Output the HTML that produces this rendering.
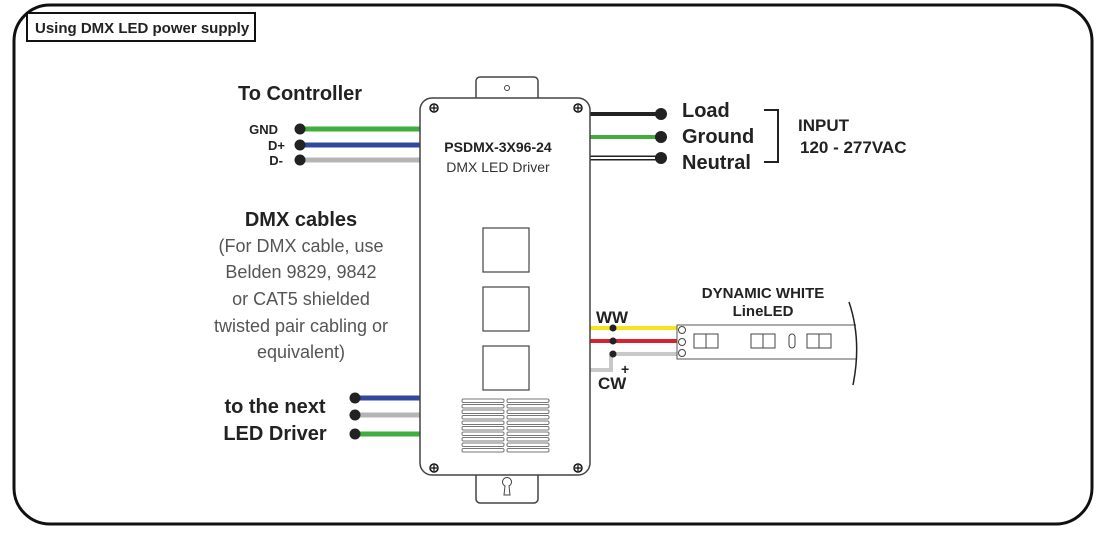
<!DOCTYPE html>
<html><head><style>
html,body{margin:0;padding:0;background:#fff;}
svg text{font-family:"Liberation Sans",sans-serif;}
</style></head><body>
<svg width="1103" height="533" viewBox="0 0 1103 533" xmlns="http://www.w3.org/2000/svg">
<rect x="14" y="5" width="1078" height="519" rx="36" fill="#fff" stroke="#111" stroke-width="3"/>
<rect x="27" y="13" width="228" height="28" fill="#fff" stroke="#111" stroke-width="2"/>
<text x="35" y="33" font-size="15" font-weight="bold" fill="#222">Using DMX LED power supply</text>

<!-- left wires -->
<g stroke-width="5">
<line x1="300" y1="129" x2="422" y2="129" stroke="#3fae3f"/>
<line x1="300" y1="145" x2="422" y2="145" stroke="#33489c"/>
<line x1="300" y1="160" x2="422" y2="160" stroke="#b5b5b5"/>
<line x1="355" y1="398" x2="422" y2="398" stroke="#33489c"/>
<line x1="355" y1="415" x2="422" y2="415" stroke="#b5b5b5"/>
<line x1="355" y1="434" x2="422" y2="434" stroke="#3fae3f"/>
</g>
<g fill="#222">
<circle cx="300" cy="129" r="5.5"/><circle cx="300" cy="145" r="5.5"/><circle cx="300" cy="160" r="5.5"/>
<circle cx="355" cy="398" r="5.5"/><circle cx="355" cy="415" r="5.5"/><circle cx="355" cy="434" r="5.5"/>
</g>
<text x="238" y="100" font-size="20" font-weight="bold" fill="#222">To Controller</text>
<text x="278" y="134" font-size="13" font-weight="bold" text-anchor="end" fill="#222">GND</text>
<text x="285" y="150" font-size="13" font-weight="bold" text-anchor="end" fill="#222">D+</text>
<text x="283" y="165" font-size="13" font-weight="bold" text-anchor="end" fill="#222">D-</text>
<text x="301" y="226" font-size="20" font-weight="bold" text-anchor="middle" fill="#222">DMX cables</text>
<g font-size="18" text-anchor="middle" fill="#555">
<text x="301" y="252">(For DMX cable, use</text>
<text x="301" y="278">Belden 9829, 9842</text>
<text x="301" y="305">or CAT5 shielded</text>
<text x="301" y="332">twisted pair cabling or</text>
<text x="301" y="358">equivalent)</text>
</g>
<text x="275" y="413" font-size="20" font-weight="bold" text-anchor="middle" fill="#222">to the next</text>
<text x="275" y="440" font-size="20" font-weight="bold" text-anchor="middle" fill="#222">LED Driver</text>

<!-- right wires -->
<line x1="588" y1="114" x2="660" y2="114" stroke="#222" stroke-width="4"/>
<line x1="588" y1="137" x2="660" y2="137" stroke="#3fae3f" stroke-width="4"/>
<line x1="588" y1="158" x2="660" y2="158" stroke="#222" stroke-width="5"/>
<line x1="588" y1="158" x2="660" y2="158" stroke="#fff" stroke-width="2"/>
<g fill="#222"><circle cx="661" cy="114" r="6"/><circle cx="661" cy="137" r="6"/><circle cx="661" cy="158" r="6"/></g>
<g font-size="20" font-weight="bold" fill="#222">
<text x="682" y="117">Load</text><text x="682" y="143">Ground</text><text x="682" y="169">Neutral</text>
<text x="798" y="131" font-size="17">INPUT</text>
<text x="800" y="153" font-size="17">120 - 277VAC</text>
</g>
<polyline points="764,110 778,110 778,162 764,162" fill="none" stroke="#222" stroke-width="2"/>

<!-- LED wires -->
<line x1="588" y1="328" x2="679" y2="328" stroke="#f4e61c" stroke-width="4"/>
<line x1="588" y1="341" x2="679" y2="341" stroke="#d8232f" stroke-width="4"/>
<polyline points="588,370 611,370 611,354 679,354" fill="none" stroke="#c8c8c8" stroke-width="4"/>
<g fill="#222"><circle cx="613" cy="328" r="3.5"/><circle cx="613" cy="341" r="3.5"/><circle cx="613" cy="354" r="3.5"/></g>
<text x="596" y="323" font-size="17" font-weight="bold" fill="#222">WW</text>
<text x="598" y="389" font-size="17" font-weight="bold" fill="#222">CW</text>
<text x="621" y="374" font-size="14" font-weight="bold" fill="#222">+</text>
<text x="763" y="298" font-size="15" font-weight="bold" text-anchor="middle" fill="#222">DYNAMIC WHITE</text>
<text x="763" y="316" font-size="15" font-weight="bold" text-anchor="middle" fill="#222">LineLED</text>
<polyline points="856,325 677,325 677,359 856,359" fill="#fff" stroke="#555" stroke-width="1"/>
<path d="M849,302 Q862,340 853,385" fill="none" stroke="#222" stroke-width="1.5"/>
<g fill="#fff" stroke="#444" stroke-width="1">
<circle cx="682" cy="330" r="3.5"/><circle cx="682" cy="342" r="3.5"/><circle cx="682" cy="353" r="3.5"/>
<rect x="694" y="334" width="12" height="14"/><rect x="706" y="334" width="12" height="14"/>
<rect x="751" y="334" width="12" height="14"/><rect x="763" y="334" width="12" height="14"/>
<rect x="789" y="334" width="6" height="14" rx="3"/>
<rect x="807" y="334" width="12" height="14"/><rect x="819" y="334" width="12" height="14"/>
</g>

<!-- driver -->
<rect x="476" y="77" width="62" height="30" rx="4" fill="#fff" stroke="#444" stroke-width="1.5"/>
<circle cx="507" cy="88" r="2.5" fill="none" stroke="#444"/>
<rect x="476" y="465" width="62" height="38" rx="4" fill="#fff" stroke="#444" stroke-width="1.5"/>
<path d="M504,495 L505,486 A4.5,4.5 0 1 1 509,486 L510,495 Z" fill="none" stroke="#444"/>
<rect x="420" y="98" width="170" height="377" rx="12" fill="#fff" stroke="#444" stroke-width="1.5"/>
<g fill="#fff" stroke="#111" stroke-width="1.5">
<circle cx="434" cy="108" r="4"/><circle cx="578" cy="108" r="4"/><circle cx="434" cy="468" r="4"/><circle cx="578" cy="468" r="4"/>
</g>
<g stroke="#111" stroke-width="1.2">
<path d="M431,108h6M434,105v6M575,108h6M578,105v6M431,468h6M434,465v6M575,468h6M578,465v6"/>
</g>
<text x="498" y="152" font-size="14" font-weight="bold" text-anchor="middle" fill="#222">PSDMX-3X96-24</text>
<text x="498" y="172" font-size="14" text-anchor="middle" fill="#333">DMX LED Driver</text>
<g fill="#fff" stroke="#444" stroke-width="1.2">
<rect x="483" y="228" width="46" height="44"/><rect x="483" y="287" width="46" height="44"/><rect x="483" y="346" width="46" height="44"/>
</g>
<g fill="#fff" stroke="#777" stroke-width="1">
<rect x="462" y="399" width="42" height="3.5" rx="1.5"/><rect x="507" y="399" width="42" height="3.5" rx="1.5"/>
<rect x="462" y="404.5" width="42" height="3.5" rx="1.5"/><rect x="507" y="404.5" width="42" height="3.5" rx="1.5"/>
<rect x="462" y="410" width="42" height="3.5" rx="1.5"/><rect x="507" y="410" width="42" height="3.5" rx="1.5"/>
<rect x="462" y="415.5" width="42" height="3.5" rx="1.5"/><rect x="507" y="415.5" width="42" height="3.5" rx="1.5"/>
<rect x="462" y="421" width="42" height="3.5" rx="1.5"/><rect x="507" y="421" width="42" height="3.5" rx="1.5"/>
<rect x="462" y="426.5" width="42" height="3.5" rx="1.5"/><rect x="507" y="426.5" width="42" height="3.5" rx="1.5"/>
<rect x="462" y="432" width="42" height="3.5" rx="1.5"/><rect x="507" y="432" width="42" height="3.5" rx="1.5"/>
<rect x="462" y="437.5" width="42" height="3.5" rx="1.5"/><rect x="507" y="437.5" width="42" height="3.5" rx="1.5"/>
<rect x="462" y="443" width="42" height="3.5" rx="1.5"/><rect x="507" y="443" width="42" height="3.5" rx="1.5"/>
<rect x="462" y="448.5" width="42" height="3.5" rx="1.5"/><rect x="507" y="448.5" width="42" height="3.5" rx="1.5"/>
</g>
</svg>
</body></html>
